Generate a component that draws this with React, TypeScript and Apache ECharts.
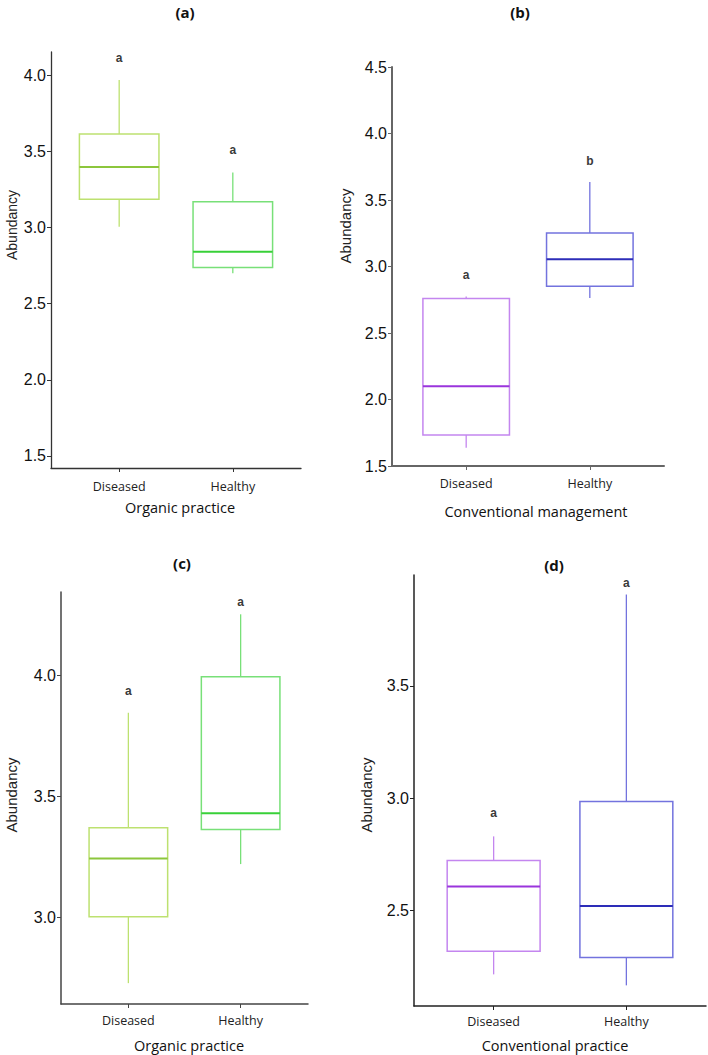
import React, { useEffect, useRef } from "react";
import * as echarts from "echarts";

const categories = ["Diseased", "Healthy"];
const categoryPositions = [1, 2];

// Each box: [min, Q1, median, Q3, max]
const boxA = [
  [3.005, 3.184, 3.396, 3.613, 3.967],
  [2.699, 2.737, 2.84, 3.169, 3.36],
];
const boxB = [
  [1.638, 1.733, 2.1, 2.76, 2.775],
  [2.763, 2.851, 3.054, 3.252, 3.635],
];
const boxC = [
  [2.73, 3.004, 3.244, 3.371, 3.845],
  [3.221, 3.364, 3.431, 3.993, 4.251],
];
const boxD = [
  [2.214, 2.317, 2.606, 2.721, 2.829],
  [2.165, 2.289, 2.519, 2.985, 3.907],
];

const lettersA = ["a", "a"];
const letterYA = [4.112, 3.508];
const lettersB = ["a", "b"];
const letterYB = [2.934, 3.793];
const lettersC = ["a", "a"];
const letterYC = [3.935, 4.302];
const lettersD = ["a", "a"];
const letterYD = [2.933, 3.957];

const ticksA = [1.5, 2.0, 2.5, 3.0, 3.5, 4.0];
const ticksB = [1.5, 2.0, 2.5, 3.0, 3.5, 4.0, 4.5];
const ticksC = [3.0, 3.5, 4.0];
const ticksD = [2.5, 3.0, 3.5];

const panelTitles = ["(a)", "(b)", "(c)", "(d)"];
const xTitles = ["Organic practice", "Conventional management", "Organic practice", "Conventional practice"];
const yTitle = "Abundancy";

const organicColors = { box: ["#bde170", "#78e078"], median: ["#8cc63c", "#38d038"] };
const conventionalColors = { box: ["#c486ef", "#7373de"], median: ["#9a35dc", "#2d2db8"] };

const panels = [
  { boxes: boxA, letters: lettersA, letterY: letterYA, ticks: ticksA, yMin: 1.421, yMax: 4.151, grid: { left: 51, top: 52, width: 250, height: 416 }, colors: organicColors, axisColor: "#333", axisWidth: 1.3, labelMargin: 12 },
  { boxes: boxB, letters: lettersB, letterY: letterYB, ticks: ticksB, yMin: 1.5, yMax: 4.5, grid: { left: 392, top: 67, width: 272, height: 399 }, colors: conventionalColors, axisColor: "#666", axisWidth: 2, labelMargin: 11 },
  { boxes: boxC, letters: lettersC, letterY: letterYC, ticks: ticksC, yMin: 2.644, yMax: 4.343, grid: { left: 61, top: 592, width: 247, height: 412 }, colors: organicColors, axisColor: "#444", axisWidth: 1.5, labelMargin: 10 },
  { boxes: boxD, letters: lettersD, letterY: letterYD, ticks: ticksD, yMin: 2.073, yMax: 3.994, grid: { left: 414, top: 575, width: 292, height: 431 }, colors: conventionalColors, axisColor: "#222", axisWidth: 1.5, labelMargin: 9 },
];

const titlePos = [[185, 12], [520, 12], [182, 563], [554, 565]];
const xTitlePos = [[180, 507], [536, 511], [189, 1045], [555, 1045]];
const yTitlePos = [[12, 225, 14], [345, 226, 15], [11, 795, 15], [366, 795, 15]];

export default function App() {
  const ref = useRef<HTMLDivElement>(null);
  useEffect(() => {
    if (!ref.current) return;
    const chart = echarts.init(ref.current, null, { renderer: "svg" });

    const grid: any[] = [];
    const xAxis: any[] = [];
    const yAxis: any[] = [];
    const series: any[] = [];

    panels.forEach((p, i) => {
      grid.push({ ...p.grid, containLabel: false });
      xAxis.push({
        type: "value",
        gridIndex: i,
        min: 0.4,
        max: 2.6,
        splitLine: { show: false },
        axisLine: { show: true, lineStyle: { color: p.axisColor, width: p.axisWidth } },
        axisTick: { show: true, length: 4, customValues: categoryPositions, lineStyle: { color: p.axisColor } },
        axisLabel: {
          customValues: categoryPositions,
          formatter: (v: number) => categories[Math.round(v) - 1] ?? "",
          fontFamily: "Open Sans",
          fontSize: 12.5,
          color: "#222",
          margin: p.labelMargin,
        },
      });
      yAxis.push({
        type: "value",
        gridIndex: i,
        min: p.yMin,
        max: p.yMax,
        splitLine: { show: false },
        axisLine: { show: true, lineStyle: { color: p.axisColor, width: p.axisWidth } },
        axisTick: { show: true, length: 4, customValues: p.ticks, lineStyle: { color: p.axisColor } },
        axisLabel: {
          customValues: p.ticks,
          formatter: (v: number) => v.toFixed(1),
          fontFamily: "'Liberation Sans', Arial",
          fontSize: 16,
          color: "#111",
          margin: 5,
        },
      });
      const colors = p.colors;
      series.push({
        type: "custom",
        xAxisIndex: i,
        yAxisIndex: i,
        data: p.boxes.map((b, k) => [categoryPositions[k], ...b]),
        encode: { x: 0, y: [1, 2, 3, 4, 5] },
        renderItem: (params: any, api: any) => {
          const x = api.value(0);
          const k = params.dataIndex;
          const vals = [1, 2, 3, 4, 5].map((d) => api.value(d));
          const pts = vals.map((v) => api.coord([x, v]));
          const w = api.size([0.7, 0])[0];
          const cx = pts[0][0];
          const left = cx - w / 2;
          const stroke = colors.box[k];
          return {
            type: "group",
            children: [
              { type: "line", shape: { x1: cx, y1: pts[3][1], x2: cx, y2: pts[4][1] }, style: { stroke, lineWidth: 1.3 } },
              { type: "line", shape: { x1: cx, y1: pts[0][1], x2: cx, y2: pts[1][1] }, style: { stroke, lineWidth: 1.3 } },
              { type: "rect", shape: { x: left, y: pts[3][1], width: w, height: pts[1][1] - pts[3][1] }, style: { fill: "#fff", stroke, lineWidth: 1.5 } },
              { type: "line", shape: { x1: left, y1: pts[2][1], x2: left + w, y2: pts[2][1] }, style: { stroke: colors.median[k], lineWidth: 2 } },
            ],
          };
        },
      });
      series.push({
        type: "custom",
        xAxisIndex: i,
        yAxisIndex: i,
        data: p.letters.map((l, k) => [categoryPositions[k], p.letterY[k], l]),
        encode: { x: 0, y: 1 },
        renderItem: (params: any, api: any) => {
          const pt = api.coord([api.value(0), api.value(1)]);
          return {
            type: "text",
            x: pt[0],
            y: pt[1],
            style: {
              text: p.letters[params.dataIndex],
              fontFamily: "'Liberation Sans', Arial",
              fontWeight: "bold",
              fontSize: 12,
              fill: "#3a3a3a",
              align: "center",
              verticalAlign: "middle",
            },
          };
        },
      });
    });

    const graphic: any[] = [];
    panelTitles.forEach((t, i) => {
      graphic.push({
        type: "text",
        x: titlePos[i][0],
        y: titlePos[i][1],
        style: { text: t, fontFamily: "Open Sans", fontWeight: "bold", fontSize: 15, fill: "#111", align: "center", verticalAlign: "middle" },
      });
      graphic.push({
        type: "text",
        x: xTitlePos[i][0],
        y: xTitlePos[i][1],
        style: { text: xTitles[i], fontFamily: "Open Sans", fontSize: 14.5, fill: "#111", align: "center", verticalAlign: "middle" },
      });
      graphic.push({
        type: "text",
        x: yTitlePos[i][0],
        y: yTitlePos[i][1],
        rotation: Math.PI / 2,
        style: { text: yTitle, fontFamily: "'Liberation Sans', Arial", fontSize: yTitlePos[i][2], fill: "#222", align: "center", verticalAlign: "middle" },
      });
    });

    chart.setOption({
      animation: false,
      backgroundColor: "#fff",
      grid,
      xAxis,
      yAxis,
      series,
      graphic,
    });
    return () => chart.dispose();
  }, []);
  return <div ref={ref} style={{ position: "fixed", left: 0, top: 0, width: 708, height: 1055 }} />;
}
